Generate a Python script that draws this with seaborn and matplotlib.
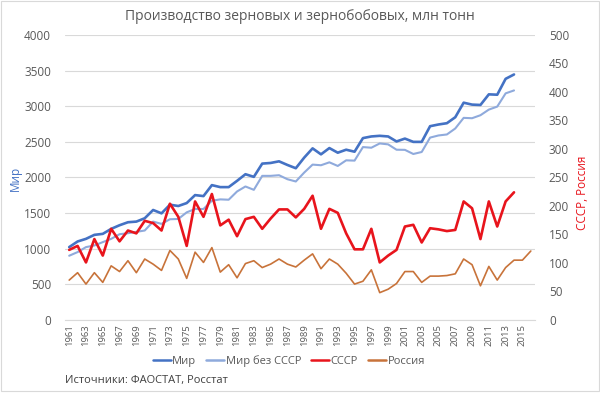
import numpy as np
import matplotlib
matplotlib.use("Agg")
import matplotlib.pyplot as plt
import pandas as pd
import seaborn as sns
from matplotlib.lines import Line2D
from matplotlib.patches import Rectangle

years = list(range(1961, 2017))

# million tonnes
world = [1023, 1102, 1139, 1195, 1209, 1279, 1330, 1372, 1381, 1428,
         1544, 1497, 1618, 1600, 1641, 1753, 1739, 1893, 1865, 1865,
         1953, 2046, 2009, 2195, 2204, 2227, 2176, 2130, 2279, 2409,
         2325, 2413, 2348, 2390, 2362, 2553, 2576, 2585, 2576, 2506,
         2546, 2500, 2500, 2720, 2744, 2762, 2846, 3050, 3023, 3018,
         3167, 3162, 3385, 3446, None, None]
world_no_ussr = [902, 953, 1023, 1046, 1093, 1139, 1204, 1218, 1237, 1256,
                 1381, 1349, 1414, 1418, 1511, 1558, 1558, 1674, 1693, 1688,
                 1804, 1874, 1827, 2023, 2023, 2032, 1976, 1944, 2069, 2181,
                 2172, 2213, 2162, 2241, 2237, 2427, 2418, 2478, 2465, 2390,
                 2388, 2330, 2358, 2560, 2590, 2604, 2688, 2837, 2832, 2874,
                 2953, 2995, 3181, 3222, None, None]
ussr = [123, 130, 101, 142, 113, 160, 138, 157, 152, 174,
        170, 157, 204, 181, 130, 208, 181, 221, 166, 176,
        147, 177, 181, 160, 178, 194, 194, 180, 195, 218,
        160, 195, 188, 152, 124, 124, 160, 101, 113, 123,
        164, 167, 136, 161, 159, 156, 158, 208, 196, 142,
        208, 164, 208, 224, None, None]
russia = [70, 83, 63, 83, 66, 95, 85, 104, 83, 107,
          98, 87, 122, 107, 73, 119, 101, 127, 84, 97,
          74, 99, 104, 92, 98, 107, 98, 93, 105, 116,
          90, 107, 98, 82, 63, 68, 88, 48, 54, 64,
          85, 85, 66, 77, 77, 78, 81, 107, 97, 60,
          94, 70, 92, 105, 105, 121]

df = pd.DataFrame({"year": years,
                   "world": pd.to_numeric(pd.Series(world), errors="coerce"),
                   "world_no_ussr": pd.to_numeric(pd.Series(world_no_ussr), errors="coerce"),
                   "ussr": pd.to_numeric(pd.Series(ussr), errors="coerce"),
                   "russia": russia})

c_world = "#4472C4"
c_light = "#8FAADC"
c_ussr = "#E8141C"
c_russia = "#C8733A"
grey = "#595959"

sns.set_style("white")
plt.rcParams["font.family"] = ["Open Sans", "DejaVu Sans"]

fig = plt.figure(figsize=(6, 3.93), dpi=100)
ax = fig.add_axes([65 / 600, 1 - 320 / 393, 470 / 600, 285 / 393])
ax2 = ax.twinx()

sns.lineplot(data=df, x="year", y="world", ax=ax, color=c_world, linewidth=1.9)
sns.lineplot(data=df, x="year", y="world_no_ussr", ax=ax, color=c_light, linewidth=1.5)
sns.lineplot(data=df, x="year", y="ussr", ax=ax2, color=c_ussr, linewidth=1.9)
sns.lineplot(data=df, x="year", y="russia", ax=ax2, color=c_russia, linewidth=1.2)

ax.set_xlim(1960.5, 2016.5)
ax.set_ylim(0, 4000)
ax2.set_ylim(0, 500)
ax.set_yticks(range(0, 4001, 500))
ax2.set_yticks(range(0, 501, 50))
ax.set_xticks(range(1961, 2016, 2))
ax.set_xticklabels([str(y) for y in range(1961, 2016, 2)], rotation=90,
                   fontsize=6.8, color=grey)
ax.tick_params(axis="y", labelsize=8.5, labelcolor=grey, length=0, pad=10)
ax2.tick_params(axis="y", labelsize=8.5, labelcolor=grey, length=0, pad=10)
ax.tick_params(axis="x", length=0, pad=3)
ax.yaxis.grid(True, color="#D9D9D9", linewidth=0.8)
ax.set_axisbelow(True)
for a in (ax, ax2):
    for s in a.spines.values():
        s.set_visible(False)
ax.spines["bottom"].set_visible(True)
ax.spines["bottom"].set_color("#D9D9D9")
ax.set_xlabel("")
ax.set_ylabel("")
ax2.set_ylabel("")

fig.text(0.5, 1 - 16 / 393, "Производство зерновых и зернобобовых, млн тонн",
         ha="center", va="center", fontsize=10, color=grey)
fig.text(15 / 600, 1 - 178 / 393, "Мир", rotation=90, ha="center", va="center",
         fontsize=8.5, color=c_world)
fig.text(583 / 600, 1 - 193 / 393, "СССР, Россия", rotation=90, ha="center",
         va="center", fontsize=8.5, color=c_ussr)
fig.text(65 / 600, 1 - 380 / 393, "Источники: ФАОСТАТ, Росстат",
         ha="left", va="center", fontsize=8, color="#404040")

handles = [Line2D([], [], color=c, linewidth=1.8) for c in (c_world, c_light, c_ussr, c_russia)]
labels = ["Мир", "Мир без СССР", "СССР", "Россия"]
fig.legend(handles, labels, loc="center", bbox_to_anchor=(289 / 600, 1 - 361 / 393),
           ncol=4, frameon=False, fontsize=8, handlelength=1.6,
           handletextpad=0.15, columnspacing=0.9, labelcolor=grey)

fig.patches.append(Rectangle((0.002, 0.004), 0.996, 0.993, transform=fig.transFigure,
                             fill=False, edgecolor="#D9D9D9", linewidth=0.8))

fig.savefig("out.png", dpi=100)
